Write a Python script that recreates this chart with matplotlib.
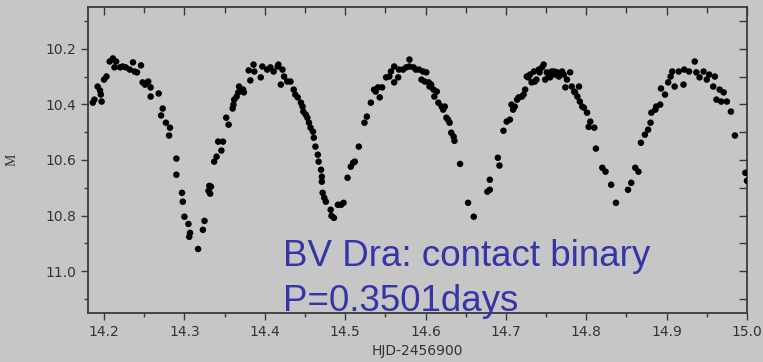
import matplotlib
matplotlib.use("Agg")
import matplotlib.pyplot as plt
from matplotlib.ticker import MultipleLocator

# light curve: HJD-2456900 vs magnitude
hjd = [14.186, 14.188, 14.197, 14.192, 14.195, 14.196, 14.200, 14.203, 14.207, 14.211,
       14.215, 14.213, 14.220, 14.223, 14.227, 14.232, 14.236, 14.238, 14.241, 14.246,
       14.248, 14.251, 14.255, 14.258, 14.258, 14.268, 14.273, 14.271, 14.277, 14.282,
       14.281, 14.290, 14.290, 14.297, 14.298, 14.300, 14.305, 14.307, 14.306, 14.317,
       14.325, 14.323, 14.331, 14.333, 14.330, 14.332, 14.337, 14.340, 14.342, 14.348,
       14.346, 14.352, 14.355, 14.360, 14.361, 14.362, 14.365, 14.367, 14.368, 14.373,
       14.374, 14.380, 14.382, 14.386, 14.387, 14.395, 14.397, 14.403, 14.407, 14.411,
       14.416, 14.417, 14.420, 14.422, 14.424, 14.428, 14.432, 14.436, 14.438, 14.441,
       14.445, 14.447, 14.448, 14.451, 14.453, 14.455, 14.457, 14.460, 14.461, 14.463,
       14.466, 14.467, 14.470, 14.471, 14.471, 14.472, 14.474, 14.476, 14.482, 14.483,
       14.486, 14.491, 14.495, 14.498, 14.503, 14.507, 14.510, 14.512, 14.517, 14.524,
       14.527, 14.532, 14.536, 14.538, 14.541, 14.543, 14.546, 14.551, 14.555, 14.557,
       14.561, 14.561, 14.566, 14.567, 14.572, 14.576, 14.580, 14.580, 14.585, 14.588,
       14.592, 14.595, 14.597, 14.599, 14.601, 14.604, 14.605, 14.607, 14.610, 14.611,
       14.614, 14.616, 14.620, 14.622, 14.624, 14.626, 14.628, 14.630, 14.632, 14.635,
       14.636, 14.643, 14.653, 14.660, 14.677, 14.680, 14.680, 14.690, 14.692, 14.697,
       14.701, 14.705, 14.707, 14.709, 14.711, 14.714, 14.716, 14.720, 14.722, 14.724,
       14.726, 14.728, 14.730, 14.732, 14.735, 14.736, 14.738, 14.741, 14.742, 14.745,
       14.747, 14.749, 14.751, 14.753, 14.755, 14.757, 14.760, 14.761, 14.764, 14.766,
       14.770, 14.772, 14.774, 14.776, 14.780, 14.782, 14.785, 14.786, 14.789, 14.791,
       14.792, 14.795, 14.797, 14.801, 14.803, 14.805, 14.810, 14.812, 14.820, 14.824,
       14.831, 14.837, 14.852, 14.856, 14.861, 14.865, 14.868, 14.873, 14.877, 14.880,
       14.881, 14.886, 14.887, 14.892, 14.893, 14.898, 14.902, 14.905, 14.907, 14.910,
       14.915, 14.921, 14.922, 14.928, 14.935, 14.937, 14.941, 14.946, 14.950, 14.953,
       14.958, 14.960, 14.962, 14.966, 14.968, 14.971, 14.975, 14.980, 14.985, 14.998,
       15.000]
mag = [10.394, 10.383, 10.390, 10.336, 10.350, 10.365, 10.311, 10.300, 10.246, 10.235,
       10.246, 10.267, 10.267, 10.264, 10.267, 10.275, 10.249, 10.282, 10.285, 10.260,
       10.321, 10.329, 10.318, 10.339, 10.372, 10.361, 10.415, 10.440, 10.466, 10.484,
       10.512, 10.595, 10.653, 10.718, 10.750, 10.804, 10.830, 10.862, 10.876, 10.920,
       10.819, 10.851, 10.693, 10.696, 10.711, 10.721, 10.606, 10.588, 10.534, 10.534,
       10.566, 10.448, 10.473, 10.415, 10.401, 10.383, 10.372, 10.357, 10.336, 10.347,
       10.357, 10.278, 10.314, 10.257, 10.282, 10.303, 10.264, 10.275, 10.267, 10.282,
       10.264, 10.257, 10.329, 10.275, 10.300, 10.318, 10.318, 10.347, 10.365, 10.375,
       10.394, 10.408, 10.426, 10.437, 10.448, 10.466, 10.484, 10.498, 10.520, 10.552,
       10.581, 10.606, 10.635, 10.660, 10.678, 10.718, 10.736, 10.750, 10.779, 10.801,
       10.808, 10.761, 10.761, 10.754, 10.664, 10.624, 10.610, 10.606, 10.552, 10.466,
       10.444, 10.394, 10.347, 10.354, 10.339, 10.375, 10.339, 10.303, 10.300, 10.282,
       10.264, 10.321, 10.303, 10.275, 10.275, 10.267, 10.239, 10.264, 10.267, 10.275,
       10.275, 10.311, 10.282, 10.318, 10.285, 10.321, 10.336, 10.329, 10.347, 10.372,
       10.354, 10.394, 10.408, 10.419, 10.408, 10.448, 10.455, 10.466, 10.502, 10.516,
       10.531, 10.614, 10.754, 10.804, 10.714, 10.707, 10.671, 10.592, 10.620, 10.495,
       10.462, 10.455, 10.401, 10.419, 10.408, 10.383, 10.375, 10.372, 10.365, 10.347,
       10.300, 10.303, 10.293, 10.321, 10.282, 10.318, 10.311, 10.275, 10.285, 10.267,
       10.257, 10.311, 10.285, 10.293, 10.303, 10.282, 10.282, 10.293, 10.285, 10.300,
       10.282, 10.293, 10.339, 10.311, 10.285, 10.336, 10.354, 10.357, 10.372, 10.336,
       10.390, 10.408, 10.412, 10.430, 10.481, 10.462, 10.484, 10.559, 10.628, 10.642,
       10.689, 10.754, 10.707, 10.682, 10.628, 10.642, 10.538, 10.509, 10.491, 10.466,
       10.430, 10.419, 10.408, 10.401, 10.343, 10.365, 10.321, 10.300, 10.282, 10.336,
       10.282, 10.329, 10.275, 10.282, 10.246, 10.285, 10.303, 10.282, 10.311, 10.293,
       10.336, 10.300, 10.383, 10.347, 10.390, 10.357, 10.390, 10.426, 10.512, 10.646,
       10.675]

x_ticks = [14.2, 14.3, 14.4, 14.5, 14.6, 14.7, 14.8, 14.9, 15.0]
y_ticks = [10.2, 10.4, 10.6, 10.8, 11.0]
title_lines = ["BV Dra: contact binary", "P=0.3501days"]

bg = "#c6c6c6"
ink = "#333333"

fig = plt.figure(figsize=(7.63, 3.62), dpi=100, facecolor=bg)
ax = fig.add_axes([0.1153, 0.1354, 0.8637, 0.8453], facecolor=bg)

ax.scatter(hjd, mag, s=22, c="black", edgecolors="none", zorder=3)

ax.set_xlim(14.18, 15.0)
ax.set_ylim(11.15, 10.05)
ax.set_xticks(x_ticks)
ax.set_xticklabels(["%.1f" % v for v in x_ticks])
ax.set_yticks(y_ticks)
ax.set_yticklabels(["%.1f" % v for v in y_ticks])
ax.xaxis.set_minor_locator(MultipleLocator(0.05))
ax.yaxis.set_minor_locator(MultipleLocator(0.1))

for s in ax.spines.values():
    s.set_color("#3a3a3a")
    s.set_linewidth(1.3)

ax.tick_params(which="both", direction="out", colors="#3a3a3a", labelcolor=ink,
               labelsize=10, width=1.0, top=False, right=False)
ax.tick_params(which="major", length=5)
ax.tick_params(which="minor", length=3)

# mirrored ticks pointing inward on top and right
top = ax.secondary_xaxis("top")
top.set_xticks(x_ticks)
top.xaxis.set_minor_locator(MultipleLocator(0.05))
top.tick_params(which="both", direction="in", labeltop=False, colors="#3a3a3a", width=1.0)
top.tick_params(which="major", length=6)
top.tick_params(which="minor", length=4)
top.spines["top"].set_visible(False)

right = ax.secondary_yaxis("right")
right.set_yticks([10.1, 10.2, 10.3, 10.4, 10.5, 10.6, 10.7, 10.8, 10.9, 11.0, 11.1])
right.tick_params(which="both", direction="in", labelright=False, colors="#3a3a3a",
                  width=1.0, length=6)
right.spines["right"].set_visible(False)

ax.set_xlabel("HJD-2456900", fontsize=10, color=ink, family="DejaVu Sans", labelpad=4)
ax.set_ylabel("M", fontsize=10, color=ink, family="Liberation Serif", labelpad=19)
for lab in ax.get_xticklabels() + ax.get_yticklabels():
    lab.set_family("DejaVu Sans")

ax.text(14.423, 10.981, title_lines[0], fontsize=26.5, color="#3535a8",
        family="Liberation Sans", va="baseline", zorder=4)
ax.text(14.423, 11.143, title_lines[1], fontsize=26.5, color="#3535a8",
        family="Liberation Sans", va="baseline", zorder=4)

fig.savefig("out.png", dpi=100, facecolor=bg)
